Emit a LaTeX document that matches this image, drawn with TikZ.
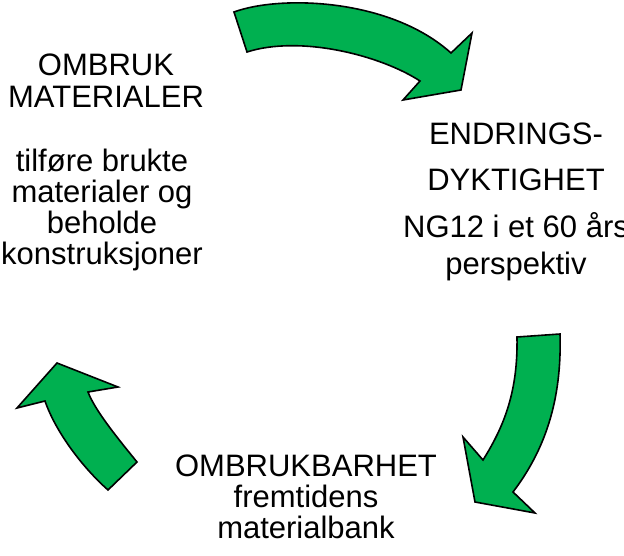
\documentclass[tikz,border=0pt]{standalone}
\usepackage{fontspec}
\setmainfont{Liberation Sans}
\definecolor{pilgronn}{HTML}{00B050}
\begin{document}
\begin{tikzpicture}[x=1pt,y=-1pt,
	pil/.style={fill=pilgronn,draw=black,line width=1.6pt,line join=miter},
	tekst/.style={font=\fontsize{31}{31}\selectfont,align=center,inner sep=0pt,anchor=base}]
	\useasboundingbox (0,0) rectangle (624,556);
	%pilene (y nedover)
	\draw[pil] (234,12) .. controls (280,-5) and (390,-2) .. (451,53)
		--(472,33)--(461,90)--(403,100)--(420,81)
		.. controls (380,55) and (300,35) .. (247,52)--cycle;
	\draw[pil] (517,337)--(560,334) .. controls (562,400) and (545,450) .. (513,492)
		--(535,513)--(475,502)--(463,437)--(483,460)
		.. controls (505,425) and (518,390) .. (517,337)--cycle;
	\draw[pil] (108,490)--(137,462) .. controls (115,435) and (95,410) .. (88,392)
		--(118,387)--(57,363)--(17,408)--(45,401)
		.. controls (55,430) and (80,465) .. (108,490)--cycle;
	%tekst (base = siste linje)
	\node[tekst] (ombruk) at (106,108) {OMBRUK\\[1pt]MATERIALER};
	\node[tekst] (ombrukTekst) at (102,265) {tilføre brukte\\materialer og\\beholde\\konstruksjoner};
	\node[tekst] (endring) at (516,191) {ENDRINGS-\\[15pt]DYKTIGHET};
	\node[tekst] (endringTekst) at (516,274) {NG12 i et 60 års\\[5pt]perspektiv};
	\node[tekst] (barhet) at (306,538) {OMBRUKBARHET\\fremtidens\\materialbank};
\end{tikzpicture}
\end{document}
